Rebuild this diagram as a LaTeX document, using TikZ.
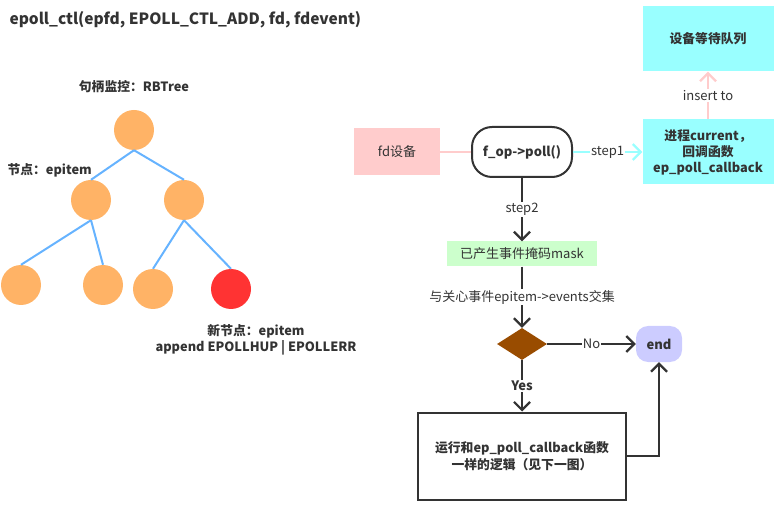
\documentclass[tikz,border=0pt]{standalone}
\usepackage{fontspec}
\setmainfont{Noto Sans CJK SC}
\usetikzlibrary{arrows.meta,shapes.geometric}
\definecolor{arancio}{HTML}{FFB366}
\definecolor{rosso}{HTML}{FF3333}
\definecolor{azzurro}{HTML}{66B3FF}
\definecolor{rosa}{HTML}{FFCCCC}
\definecolor{ciano}{HTML}{99FFFF}
\definecolor{verdino}{HTML}{CCFFCC}
\definecolor{marrone}{HTML}{994C00}
\definecolor{lilla}{HTML}{CCCCFF}
\definecolor{scuro}{HTML}{333333}
\begin{document}
\begin{tikzpicture}[x=1pt, y=-1pt, font=\fontsize{13}{16}\selectfont, text=scuro]
    % Definizione stili
    \tikzstyle{rbnode}=[circle, fill=arancio, minimum size=40pt, inner sep=0pt]
    \tikzstyle{treeedge}=[azzurro, line width=2pt]
    \tikzstyle{label}=[font=\fontsize{12.8}{16}\selectfont\bfseries]
    \tikzstyle{device}=[fill=rosa, minimum width=86pt, minimum height=47pt]
    \tikzstyle{pollbox}=[draw=scuro, line width=2pt, rounded corners=20pt, minimum width=100pt, minimum height=50pt, font=\fontsize{13}{16}\selectfont\bfseries]
    \tikzstyle{queue}=[fill=ciano, minimum width=131pt, minimum height=65pt, align=center, font=\fontsize{12.8}{16}\selectfont\bfseries]
    \tikzstyle{maskbox}=[fill=verdino, minimum width=150pt, minimum height=25pt]
    \tikzstyle{decision}=[diamond, fill=marrone, minimum width=50pt, minimum height=32pt, aspect=1.5625, inner sep=0pt]
    \tikzstyle{endbox}=[fill=lilla, rounded corners=12pt, minimum width=46pt, minimum height=36pt, font=\fontsize{13}{16}\selectfont\bfseries]
    \tikzstyle{taskbox}=[draw=scuro, line width=2pt, minimum width=208pt, minimum height=87pt, align=center, font=\fontsize{12.8}{17}\selectfont\bfseries]
    \tikzstyle{flow}=[-{Straight Barb[length=8pt, width=16pt]}, scuro, line width=2.2pt]
    \tikzstyle{onpath}=[fill=white, inner sep=1pt, text=scuro]

    \useasboundingbox (0,0) rectangle (784,510);

    % Titolo
    \node[anchor=west, font=\fontsize{15.5}{18}\selectfont\bfseries] (titolo) at (6,20) {epoll\_ctl(epfd, EPOLL\_CTL\_ADD, fd, fdevent)};

    % Albero RB
    \node[label] (lbl_albero) at (134,87) {句柄监控：RBTree};
    \node[rbnode] (radice) at (134,130) {};
    \node[rbnode] (sx) at (91,200) {};
    \node[rbnode] (dx) at (184,200) {};
    \node[rbnode] (sx_sx) at (21,285) {};
    \node[rbnode] (sx_dx) at (103,285) {};
    \node[rbnode] (dx_sx) at (153,289) {};
    \node[rbnode, fill=rosso] (nuovo) at (231,289) {};
    \node[label, anchor=west] (lbl_nodo) at (4,170) {节点：epitem};
    \node[label, align=center] (lbl_nuovo) at (256,340) {新节点：epitem\\append EPOLLHUP | EPOLLERR};

    % Archi dell'albero
    \draw[treeedge] (radice.south) -- (sx.north);
    \draw[treeedge] (radice.south) -- (dx.north);
    \draw[treeedge] (sx.south) -- (sx_sx.north);
    \draw[treeedge] (sx.south) -- (sx_dx.north);
    \draw[treeedge] (dx.south) -- (dx_sx.north);
    \draw[treeedge] (dx.south) -- (nuovo.north);

    % Flusso di poll
    \node[device] (fd_dev) at (397,152) {fd设备};
    \node[pollbox] (poll) at (522,152) {f\_op->poll()};
    \node[queue] (callback) at (708,152) {进程current，\\回调函数\\ep\_poll\_callback};
    \node[queue] (coda) at (708,39) {设备等待队列};
    \node[maskbox] (mask) at (522,254) {已产生事件掩码mask};
    \node[decision] (scelta) at (522,344) {};
    \node[endbox] (fine) at (659,344) {end};
    \node[taskbox] (logica) at (522,456) {运行和ep\_poll\_callback函数\\一样的逻辑（见下一图）};

    % Frecce
    \draw[rosa, line width=2pt] (fd_dev) -- (poll);
    \draw[flow, ciano] (poll) -- node[onpath] {step1} (callback);
    \draw[flow, rosa] (callback) -- node[onpath] {insert to} (coda);
    \draw[flow] (poll) -- node[onpath] {step2} (mask);
    \draw[flow] (mask) -- node[onpath] {与关心事件epitem->events交集} (scelta);
    \draw[flow] (scelta) -- node[onpath] {No} (fine);
    \draw[flow] (scelta) -- node[onpath, font=\fontsize{13}{16}\selectfont\bfseries] {Yes} (logica);
    \draw[flow] (logica.east) -| (fine.south);
\end{tikzpicture}
\end{document}
